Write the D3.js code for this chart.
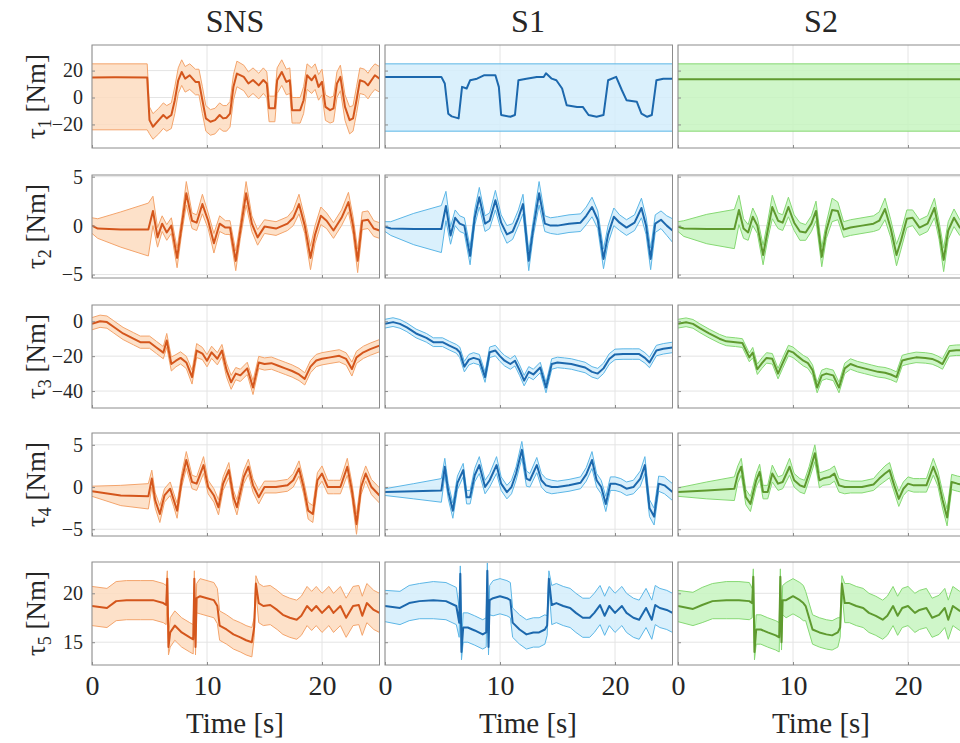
<!DOCTYPE html>
<html>
<head>
<meta charset="utf-8">
<script src="https://cdn.jsdelivr.net/npm/d3@7"></script>
<style>
body { margin: 0; background: #fff; }
</style>
</head>
<body>
<script>
// ---- data ----
var columns = ["SNS", "S1", "S2"];
var jointIdx = ["1", "2", "3", "4", "5"];
var xTicks = [0, 10, 20];
var tauTicks = [[-20, 0, 20], [-5, 0, 5], [-40, -20, 0], [-5, 0, 5], [15, 20]];
var tauLims = [[-37.5, 39], [-5.35, 5.17], [-49.7, 9.3], [-5.8, 6.4], [12.67, 23.2]];

// tau1 - each column has its own time stamps
var t1Sns = [0, 2, 4.8, 5.0, 5.3, 5.8, 6.2, 6.5, 6.9, 7.2, 7.5, 7.8, 8.1, 8.5, 9.0, 9.3, 9.6, 9.9, 10.3, 10.7, 11.1, 11.4, 11.7, 12.0, 12.3, 12.6, 13.2, 13.6, 14.0, 14.5, 14.9, 15.2, 15.4, 15.9, 16.1, 16.5, 16.9, 17.2, 17.4, 17.8, 18.1, 18.4, 18.7, 19.1, 19.4, 19.7, 20.0, 20.3, 20.7, 21.0, 21.3, 21.6, 22.0, 22.4, 22.7, 23.0, 23.3, 23.7, 24.0, 24.3, 24.6, 25.0];
var tau1SnsMean = [14.8, 15, 14.8, -16.8, -21.7, -16.8, -13, -15.5, -13, -2, 12.8, 19, 14, 16.5, 11.6, 11.6, -2, -15.5, -18, -16.8, -13, -15.5, -15, -12, 8, 17.8, 15.3, 10.4, 13, 9, 13, 10.4, -8, -8, 12.8, 19, 11.6, 12.8, -9.4, -9.4, -9.4, -2, 16.5, 12.8, 16.5, 7.9, 11.6, -7, -9.4, -8, 10.4, 15.3, -7, -16.8, -15.5, -2, 12.8, 11.6, 9, 12.8, 16.5, 14];
var tau1SnsHi = [25, 25, 25, -7, -12, -8, -4, -6, -4, 8, 22, 28, 23, 25, 21, 21, 8, -6, -9, -8, -4, -6, -6, -3, 17, 27, 24, 19, 22, 18, 22, 19, 1, 1, 22, 28, 21, 22, 0, 0, 0, 8, 25, 22, 25, 17, 21, 2, 0, 1, 19, 24, 2, -7, -6, 8, 22, 21, 18, 22, 25, 23];
var tau1SnsLo = [-24, -24, -24, -27, -31, -27, -23, -25, -23, -12, 3, 9, 4, 6, 2, 2, -12, -25, -28, -27, -23, -25, -25, -22, -2, 8, 5, 0, 3, -1, 3, 0, -18, -18, 3, 9, 2, 3, -19, -19, -19, -12, 6, 3, 6, -2, 2, -17, -19, -18, 0, 5, -17, -27, -25, -12, 3, 2, -1, 3, 6, 4];

var t1S1 = [0, 4.9, 5.2, 5.5, 5.8, 6.4, 6.7, 7.1, 7.4, 8.0, 8.6, 9.6, 9.9, 10.1, 10.9, 11.3, 11.6, 12.3, 13.2, 13.8, 14.0, 14.5, 14.9, 15.4, 15.8, 16.7, 17.2, 17.7, 18.4, 19.0, 19.4, 20.1, 20.6, 21.0, 21.9, 22.3, 22.8, 23.2, 23.6, 24.2, 25];
var tau1S1Mean = [15.3, 15.3, 10.4, -12, -14, -15.5, 7.9, 6.7, 12.8, 14, 16.5, 16.5, 7.9, -13, -14.3, -13, 12.8, 14, 15.3, 15.3, 18, 14, 12.8, 6.7, -5.7, -7, -7, -13, -14.3, -13, 12.8, 15.3, 5.4, -2, -3.2, -12, -14.3, -13, 12.8, 14, 14];
var t1S2 = [0, 25];
var tau1S2Mean = [13.5, 13.5];
var tau1BandT = [0, 25];
var tau1BandLo = [-25, -25];
var tau1BandHi = [25, 25];

// tau2
var t2 = [0, 0.5, 2.5, 4.9, 5.3, 5.7, 6.1, 6.5, 6.9, 7.4, 7.8, 8.2, 8.7, 9.1, 9.6, 10.1, 10.6, 11.1, 11.6, 12.0, 12.5, 12.9, 13.4, 13.9, 14.4, 15.0, 16.0, 17.0, 17.5, 18.0, 18.5, 19.0, 19.4, 19.9, 20.4, 21.0, 21.7, 22.3, 22.7, 23.1, 23.5, 24.0, 24.5, 25.0];
var tau2SnsMean = [0, -0.3, -0.4, -0.4, 1.5, -1.2, 0.2, -0.7, 0, -3.3, 0, 3.3, 0.5, 0.3, 2.2, 0.5, -1.8, 0.2, -0.2, -0.2, -3.6, -0.5, 3.3, 0.2, -1.2, -0.1, -0.3, 0.2, 0.8, 2.2, 0, -3.3, -0.9, 1, 0.5, -0.5, 0.8, 2.4, 0, -3.6, 0.5, 0.6, -0.3, -0.5];
var tau2SnsSpread = [0.8, 1.0, 1.8, 2.7, 1.5, 1.0, 0.8, 0.8, 0.8, 1.0, 0.8, 1.2, 0.8, 0.8, 1.0, 0.8, 1.0, 0.8, 0.7, 0.7, 1.0, 0.8, 1.2, 0.8, 0.8, 0.7, 0.7, 0.7, 0.8, 1.0, 0.8, 1.2, 0.9, 0.9, 0.8, 0.8, 0.8, 1.0, 0.9, 1.2, 0.9, 0.9, 0.8, 0.8];
var tau2S1Mean = [-0.1, -0.3, -0.35, -0.35, 2.0, -1, 0.8, 0.2, 0, -3.1, 0.8, 2.9, 0.2, 0.5, 2.6, 0.3, -0.9, -0.6, 0.8, 2.2, -3.6, -0.2, 3.3, 0.2, 0, 0, 0.2, 0.3, 1.0, 1.9, 0.6, -3.4, -0.9, 0.9, 0.3, -0.2, 0.3, 1.8, 0, -3.4, 0.2, 0.6, 0, -0.5];
var tau2S1Spread = [0.5, 0.7, 1.6, 2.4, 1.5, 0.9, 0.8, 0.8, 0.8, 0.9, 0.8, 1.0, 0.8, 0.8, 1.0, 0.8, 0.9, 0.8, 0.8, 1.0, 1.0, 0.8, 1.2, 0.8, 0.8, 0.9, 0.9, 0.9, 0.9, 1.0, 0.9, 1.0, 0.9, 0.9, 0.8, 0.8, 0.8, 1.0, 0.9, 1.1, 0.9, 0.9, 1.0, 1.2];
var tau2S2Mean = [-0.1, -0.3, -0.35, -0.35, 1.6, -0.3, -0.7, 0.9, 0, -3.0, -0.5, 1.9, 0.5, 0.3, 1.9, 0.3, -0.6, -0.7, 0.2, 1.5, -3.2, -0.5, 1.6, 1.5, -0.4, -0.2, 0, 0.2, 0.5, 1.7, -0.3, -3.0, -1.5, 0.7, 0.8, -0.2, 0.2, 1.8, -0.5, -3.5, -0.5, 0.8, -0.2, -0.4];
var tau2S2Spread = [0.5, 0.8, 1.5, 2.0, 1.5, 1.0, 0.8, 0.9, 0.8, 1.0, 0.9, 1.2, 0.8, 0.8, 1.0, 0.8, 0.9, 0.8, 0.8, 1.0, 1.0, 0.8, 1.2, 0.9, 0.8, 0.8, 0.8, 0.8, 0.9, 1.1, 0.9, 1.1, 0.9, 0.9, 0.8, 0.8, 0.8, 1.0, 0.9, 1.2, 0.9, 0.9, 0.8, 0.8];

// tau3
var t3 = [0, 0.7, 1.3, 1.9, 2.7, 3.6, 4.2, 5.0, 5.6, 6.2, 6.5, 6.9, 7.3, 7.7, 8.2, 8.7, 9.1, 9.6, 10.0, 10.4, 10.9, 11.3, 11.7, 12.1, 12.5, 12.9, 13.5, 14.0, 14.5, 15.0, 15.6, 16.2, 16.8, 17.4, 18.0, 18.5, 19.0, 19.5, 20.0, 20.7, 21.5, 22.1, 22.6, 23.0, 23.6, 24.2, 25.0];
var tau3SnsMean = [-1.4, 0, -0.5, -3.3, -7, -10, -12, -12, -15, -18, -11, -24.5, -22.6, -21, -23.6, -32, -16.8, -18.5, -22.6, -17.8, -21.5, -16.8, -28, -35, -30, -31, -27, -38, -23.6, -24.5, -24, -25.5, -27, -28.5, -30.5, -33, -26, -22.5, -21.5, -20.7, -19.8, -21.6, -27.4, -20.7, -17.8, -16, -14];
var tau3SnsSpread = [3.5, 3.5, 3.5, 3.5, 3.5, 3.5, 3.5, 3.5, 3.5, 3.5, 4, 4, 3.5, 3.5, 3.5, 4, 4, 3.5, 3.5, 3.5, 3.5, 3.5, 4, 4, 3.5, 3.5, 3.5, 4, 3.5, 3.5, 3.5, 3.5, 3.5, 3.5, 3.5, 3.5, 3.5, 3.5, 3.5, 3.5, 3.5, 3.5, 4, 3.5, 3.5, 3.5, 3.5];
var tau3S1Mean = [-1.4, -0.5, -1.5, -3.5, -7, -9.5, -12, -12, -14, -15.8, -17.8, -26, -22, -21, -22, -32, -17.8, -16.8, -20, -22.6, -24.5, -22.6, -28, -34, -29, -30.5, -26.5, -38, -24.5, -23.6, -24, -24.5, -25.5, -26.5, -29, -30, -27, -21.6, -19, -18.8, -18.8, -18.8, -21, -23.6, -16.8, -15.8, -15];
var tau3S1Spread = [2.5, 2.5, 2.5, 2.5, 2.5, 2.5, 2.5, 2.5, 2.5, 2.5, 3, 3, 3, 3, 3, 3, 3, 3, 3, 3, 3, 3, 3, 3, 3, 3, 3, 3, 3, 3, 3, 3, 3, 3, 3, 3, 3, 3, 3, 3, 3, 3, 3, 3, 3, 3, 3];
var tau3S2Mean = [-1.4, -0.6, -1.5, -4, -7, -10, -11.5, -12, -12.5, -20.7, -18, -27.5, -24, -21, -21.5, -30, -24, -16.8, -17.8, -20, -22.6, -24, -28, -38, -31, -30, -31, -38, -27, -24.5, -26, -27, -28, -29, -29.5, -30.5, -32, -22.5, -21.6, -20.7, -21, -21.6, -23, -24.5, -17, -16.6, -16.5];
var tau3S2Spread = [2.5, 2.5, 2.5, 2.5, 2.5, 2.5, 2.5, 2.5, 2.5, 2.5, 3, 3, 3, 3, 3, 3, 3, 3, 3, 3, 3, 3, 3, 3, 3, 3, 3, 3, 3, 3, 3, 3, 3, 3, 3, 3, 3, 3, 3, 3, 3, 3, 3, 3, 3, 3, 3];

// tau4
var t4 = [0, 2.5, 4.9, 5.2, 5.5, 5.9, 6.3, 6.8, 7.1, 7.4, 7.8, 8.2, 8.7, 9.1, 9.7, 10.1, 10.6, 11.0, 11.4, 11.9, 12.3, 12.6, 13.2, 13.6, 14.0, 14.5, 15.0, 16.0, 17.0, 17.5, 18.0, 18.4, 18.8, 19.2, 19.6, 20.0, 20.5, 21.0, 21.6, 22.2, 22.6, 23.0, 23.4, 23.8, 24.3, 25.0];
var tau4SnsMean = [-0.5, -1.0, -1.1, 1.0, -1.6, -3.2, -1.0, -0.2, -1.5, -2.8, 0.8, 3.2, 0.6, 0.4, 2.6, 0, -1.0, -2.4, 0.4, 2.0, -1.2, -2.4, 1.2, 2.4, 0.2, -1.2, 0, 0, 0.2, 0.8, 2.2, 0, -2.8, -3.2, 0.8, 1.6, 0, 0, 0, 2.4, -0.4, -4.4, 0, 1.6, 0, -1.0];
var tau4SnsSpread = [0.6, 1.2, 1.5, 1.0, 0.9, 1.0, 0.8, 0.8, 0.8, 0.9, 0.8, 1.0, 0.8, 0.8, 1.0, 0.8, 0.8, 0.9, 0.8, 0.9, 0.8, 0.9, 0.8, 0.9, 0.8, 0.8, 0.7, 0.7, 0.7, 0.8, 0.9, 0.8, 1.0, 1.0, 0.9, 0.9, 0.8, 0.8, 0.8, 1.0, 0.9, 1.2, 0.9, 0.9, 0.9, 0.9];
var tau4S1Mean = [-0.6, -0.5, -0.4, 2.4, -0.5, -2.8, 0.5, 2.0, -1.2, -1.2, 1.4, 2.6, 0, 0.8, 2.6, 0.4, -0.6, 0, 1.6, 4.4, 1.0, 0.8, 2.6, 0.8, 0.2, 0, 0, 0.2, 0.5, 1.5, 3.2, 0.8, 0, -2.0, 0.4, 0.4, 0.2, -0.2, 0, 1.0, 2.6, -2.5, -3.5, 0.4, 0.2, -0.6];
var tau4S1Spread = [0.4, 0.9, 1.4, 1.0, 0.9, 0.9, 0.8, 0.8, 0.8, 0.8, 0.8, 1.0, 0.8, 0.8, 1.0, 0.8, 0.8, 0.8, 0.8, 1.0, 0.9, 0.8, 0.9, 0.8, 0.8, 0.8, 0.7, 0.7, 0.7, 0.8, 1.0, 0.8, 0.8, 0.9, 0.8, 0.8, 0.8, 0.8, 0.8, 0.9, 1.0, 1.0, 1.0, 0.9, 1.0, 1.0];
var tau4S2Mean = [-0.6, -0.4, -0.2, 1.5, 2.4, -1.2, -2.0, 0.8, 1.8, -0.6, -0.6, 1.6, 0.4, 0.6, 2.4, 0.8, 0.2, 0, 1.6, 4.0, 0.8, 1.0, 1.2, 1.6, 0.2, 0, 0, 0, 0.3, 1.0, 1.6, 2.0, 0.2, -1.4, -0.2, 0.4, 0.2, 0.2, 0.2, 2.4, 1.0, -1.5, -3.6, 0.6, 0.4, 0.2];
var tau4S2Spread = [0.5, 1.0, 1.4, 1.0, 1.0, 0.9, 0.9, 0.8, 0.9, 0.8, 0.8, 1.0, 0.8, 0.8, 1.0, 0.8, 0.8, 0.8, 0.8, 1.0, 0.9, 0.8, 0.9, 0.9, 0.8, 0.8, 0.7, 0.7, 0.7, 0.8, 0.9, 0.9, 0.8, 0.9, 0.8, 0.8, 0.8, 0.8, 0.8, 1.0, 0.9, 1.0, 1.0, 0.9, 0.9, 0.9];

// tau5
var t5 = [0, 1.3, 2.1, 3.0, 4.2, 5.3, 6.2, 6.45, 6.55, 6.65, 6.8, 7.2, 7.8, 8.5, 8.8, 8.9, 9.0, 9.1, 9.4, 10.0, 10.6, 10.9, 11.1, 11.7, 12.3, 12.9, 13.4, 13.9, 14.1, 14.25, 14.5, 14.9, 15.5, 16.1, 16.6, 17.2, 17.8, 18.2, 18.7, 19.1, 19.5, 20.0, 20.6, 21.0, 21.6, 22.1, 22.7, 23.2, 23.5, 23.9, 24.5, 25.0];
var tau5SnsMean = [18.7, 18.5, 19.2, 19.3, 19.3, 19.3, 19.0, 18.8, 21.5, 14.5, 16.0, 16.7, 16.0, 15.5, 15.3, 21.5, 14.5, 19.5, 19.7, 19.5, 19.3, 18.7, 16.7, 16.3, 15.8, 15.5, 15.2, 15.0, 16.5, 21.0, 19.0, 18.7, 18.8, 18.3, 17.8, 17.5, 17.3, 17.7, 18.7, 18.2, 18.7, 18.0, 18.7, 18.0, 18.7, 17.5, 18.7, 18.8, 17.7, 19.0, 18.3, 18.0];
var tau5SnsSpread = [2.0, 2.0, 2.0, 2.0, 2.0, 2.0, 2.0, 2.0, 0.8, 0.8, 1.5, 1.5, 1.5, 1.5, 1.5, 0.8, 0.8, 1.5, 1.8, 1.8, 1.8, 1.8, 1.5, 1.5, 1.5, 1.5, 1.5, 1.5, 1.0, 0.8, 2.0, 2.0, 2.0, 2.0, 2.0, 2.0, 2.0, 2.0, 2.0, 2.0, 2.0, 2.0, 2.0, 2.0, 2.0, 2.0, 2.0, 2.0, 2.0, 2.0, 2.0, 2.0];
var tau5S1Mean = [18.7, 18.5, 19.0, 19.2, 19.3, 19.2, 18.7, 17.0, 22.0, 14.0, 16.5, 16.5, 16.2, 15.8, 16.0, 22.3, 14.5, 19.3, 19.5, 19.7, 19.5, 19.3, 17.0, 16.3, 15.8, 16.0, 16.0, 16.3, 16.7, 21.5, 18.8, 19.0, 18.7, 18.5, 18.0, 17.5, 17.5, 18.0, 18.8, 17.7, 18.7, 18.0, 18.7, 18.0, 17.5, 17.3, 18.5, 17.3, 18.8, 18.5, 18.3, 18.0];
var tau5S1Spread = [1.6, 1.7, 1.8, 1.8, 1.9, 1.9, 1.9, 1.5, 0.8, 0.8, 1.5, 1.5, 1.5, 1.5, 1.5, 0.8, 0.8, 1.5, 1.8, 1.8, 1.8, 1.8, 1.5, 1.5, 1.5, 1.5, 1.5, 1.5, 1.0, 0.8, 2.0, 2.0, 2.0, 2.0, 2.0, 2.0, 2.0, 2.0, 2.0, 2.0, 2.0, 2.0, 2.0, 2.0, 2.0, 2.0, 2.0, 2.0, 2.0, 2.0, 2.0, 2.0];
var tau5S2Mean = [18.7, 18.4, 18.8, 19.2, 19.3, 19.3, 19.2, 19.0, 21.7, 14.0, 16.3, 16.3, 16.0, 15.7, 15.5, 21.7, 15.0, 19.3, 19.3, 19.7, 19.3, 19.0, 18.7, 16.3, 16.0, 15.8, 15.7, 16.0, 16.5, 21.0, 19.0, 19.0, 18.7, 18.5, 18.0, 17.7, 17.3, 17.7, 18.7, 17.7, 18.5, 18.7, 18.0, 18.3, 18.5, 17.5, 17.8, 18.5, 17.3, 18.7, 18.2, 18.0];
var tau5S2Spread = [1.6, 1.7, 1.8, 1.8, 1.9, 1.9, 1.9, 1.5, 0.8, 0.8, 1.5, 1.5, 1.5, 1.5, 1.5, 0.8, 0.8, 1.5, 1.8, 1.8, 1.8, 1.8, 1.5, 1.5, 1.5, 1.5, 1.5, 1.5, 1.0, 0.8, 2.0, 2.0, 2.0, 2.0, 2.0, 2.0, 2.0, 2.0, 2.0, 2.0, 2.0, 2.0, 2.0, 2.0, 2.0, 2.0, 2.0, 2.0, 2.0, 2.0, 2.0, 2.0];

// ---- panels ----
function bandPanel(t, mean, bandT, lo, hi) {
  return {t: t, mean: mean, bandT: bandT, lo: lo, hi: hi};
}
function spreadPanel(t, mean, sp) {
  return {t: t, mean: mean, bandT: t,
          lo: mean.map(function(v, i) { return v - sp[i]; }),
          hi: mean.map(function(v, i) { return v + sp[i]; })};
}

var panels = [
  [bandPanel(t1Sns, tau1SnsMean, t1Sns, tau1SnsLo, tau1SnsHi),
   bandPanel(t1S1, tau1S1Mean, tau1BandT, tau1BandLo, tau1BandHi),
   bandPanel(t1S2, tau1S2Mean, tau1BandT, tau1BandLo, tau1BandHi)],
  [spreadPanel(t2, tau2SnsMean, tau2SnsSpread), spreadPanel(t2, tau2S1Mean, tau2S1Spread), spreadPanel(t2, tau2S2Mean, tau2S2Spread)],
  [spreadPanel(t3, tau3SnsMean, tau3SnsSpread), spreadPanel(t3, tau3S1Mean, tau3S1Spread), spreadPanel(t3, tau3S2Mean, tau3S2Spread)],
  [spreadPanel(t4, tau4SnsMean, tau4SnsSpread), spreadPanel(t4, tau4S1Mean, tau4S1Spread), spreadPanel(t4, tau4S2Mean, tau4S2Spread)],
  [spreadPanel(t5, tau5SnsMean, tau5SnsSpread), spreadPanel(t5, tau5S1Mean, tau5S1Spread), spreadPanel(t5, tau5S2Mean, tau5S2Spread)]
];

// colours per column: band fill, band edge, mean line
var fillCol = ["#fddcc0", "#d3edfb", "#c7f4c0"];
var edgeCol = ["#f3a46c", "#5cb6e6", "#86d873"];
var lineCol = ["#d4561c", "#1c68ad", "#5f9a2f"];
var fontName = "'Liberation Serif', 'Times New Roman', Times, serif";

// layout
var colX = [92, 385, 678], pw = 287.5;
var rowY = [45, 175, 305, 433, 562], ph = 103;

var svg = d3.select("body").append("svg")
    .attr("width", 960)
    .attr("height", 743)
    .attr("font-family", fontName);
var defs = svg.append("defs");

panels.forEach(function(row, r) {
  row.forEach(function(p, c) {
    var x = d3.scaleLinear().domain([0, 25]).range([colX[c], colX[c] + pw]);
    var y = d3.scaleLinear().domain(tauLims[r]).range([rowY[r] + ph, rowY[r]]);
    var id = "clip" + r + "_" + c;
    defs.append("clipPath").attr("id", id).append("rect")
        .attr("x", colX[c]).attr("y", rowY[r]).attr("width", pw).attr("height", ph);

    var g = svg.append("g");
    // grid
    g.selectAll(".gx").data(xTicks).enter().append("line")
        .attr("x1", function(d) { return x(d); }).attr("x2", function(d) { return x(d); })
        .attr("y1", rowY[r]).attr("y2", rowY[r] + ph)
        .attr("stroke", "#e4e4e4").attr("stroke-width", 1);
    g.selectAll(".gy").data(tauTicks[r]).enter().append("line")
        .attr("x1", colX[c]).attr("x2", colX[c] + pw)
        .attr("y1", function(d) { return y(d); }).attr("y2", function(d) { return y(d); })
        .attr("stroke", "#e4e4e4").attr("stroke-width", 1);

    var data = g.append("g").attr("clip-path", "url(#" + id + ")");
    var area = d3.area()
        .x(function(d, i) { return x(p.bandT[i]); })
        .y0(function(d, i) { return y(p.lo[i]); })
        .y1(function(d, i) { return y(p.hi[i]); });
    data.append("path").datum(p.bandT).attr("d", area)
        .attr("fill", fillCol[c]).attr("fill-opacity", 0.85);

    var edge = function(arr) {
      return d3.line()
        .x(function(d, i) { return x(p.bandT[i]); })
        .y(function(d, i) { return y(arr[i]); });
    };
    data.append("path").datum(p.bandT).attr("d", edge(p.lo))
        .attr("fill", "none").attr("stroke", edgeCol[c]).attr("stroke-width", 1);
    data.append("path").datum(p.bandT).attr("d", edge(p.hi))
        .attr("fill", "none").attr("stroke", edgeCol[c]).attr("stroke-width", 1);

    var line = d3.line()
        .x(function(d, i) { return x(p.t[i]); })
        .y(function(d, i) { return y(p.mean[i]); });
    data.append("path").datum(p.t).attr("d", line)
        .attr("fill", "none").attr("stroke", lineCol[c]).attr("stroke-width", 2)
        .attr("stroke-linejoin", "round");

    // axes (ticks pointing inwards, labels only on the outer panels)
    var ya = d3.axisLeft(y).tickValues(tauTicks[r]).tickSize(-3).tickPadding(9)
        .tickFormat(c === 0 ? d3.format("d") : function() { return ""; });
    var yg = g.append("g").attr("transform", "translate(" + colX[c] + ",0)").call(ya)
        .attr("font-family", fontName).attr("font-size", 20);
    yg.select(".domain").remove();
    yg.selectAll("line").attr("stroke", "#8c8c8c");
    yg.selectAll("text").attr("fill", "#262626").attr("font-family", fontName);

    var xa = d3.axisBottom(x).tickValues(xTicks).tickSize(-3).tickPadding(10)
        .tickFormat(r === 4 ? d3.format("d") : function() { return ""; });
    var xg = g.append("g").attr("transform", "translate(0," + (rowY[r] + ph) + ")").call(xa)
        .attr("font-family", fontName).attr("font-size", 28);
    xg.select(".domain").remove();
    xg.selectAll("line").attr("stroke", "#8c8c8c");
    xg.selectAll("text").attr("fill", "#262626").attr("font-family", fontName);

    g.append("rect")
        .attr("x", colX[c]).attr("y", rowY[r]).attr("width", pw).attr("height", ph)
        .attr("fill", "none").attr("stroke", "#8c8c8c").attr("stroke-width", 1);
  });

  // y label
  var yl = svg.append("text")
      .attr("transform", "translate(45," + (rowY[r] + ph / 2) + ") rotate(-90)")
      .attr("text-anchor", "middle")
      .attr("font-family", fontName).attr("font-size", 27).attr("fill", "#262626");
  yl.append("tspan").text("\u03c4");
  yl.append("tspan").attr("dy", 6).attr("font-size", 18).text(jointIdx[r]);
  yl.append("tspan").attr("dy", -6).text(" [Nm]");
});

// column titles and x labels
columns.forEach(function(name, c) {
  svg.append("text").text(name)
      .attr("x", colX[c] + 143).attr("y", 32)
      .attr("text-anchor", "middle")
      .attr("font-family", fontName).attr("font-size", 32).attr("fill", "#262626");
  svg.append("text").text("Time [s]")
      .attr("x", colX[c] + 143).attr("y", 733)
      .attr("text-anchor", "middle")
      .attr("font-family", fontName).attr("font-size", 29).attr("fill", "#262626");
});
</script>
</body>
</html>
